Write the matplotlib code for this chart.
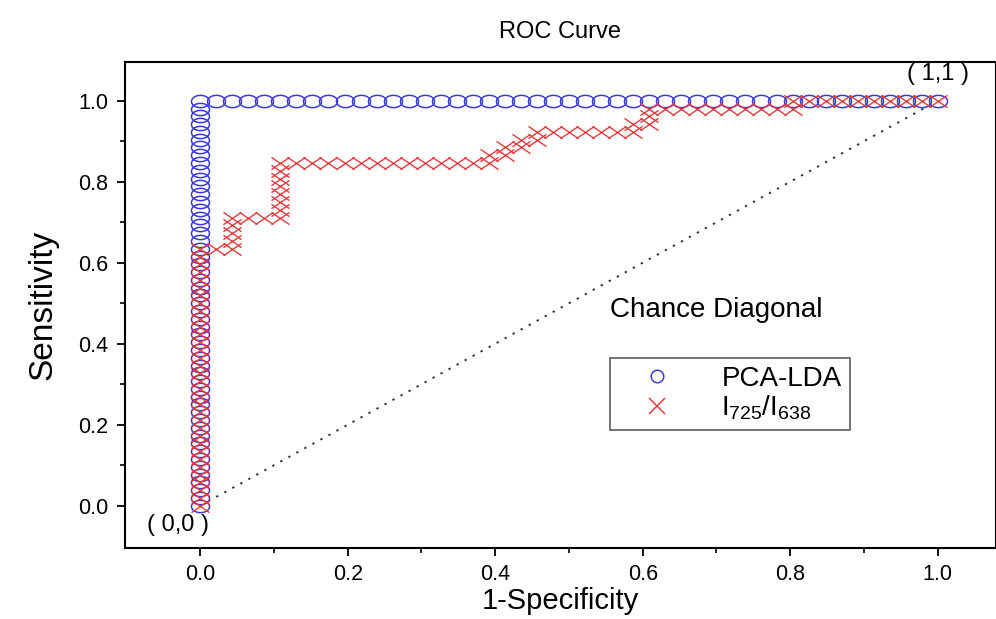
import numpy as np
import matplotlib
matplotlib.use("Agg")
import matplotlib.pyplot as plt
from matplotlib.path import Path
from matplotlib.lines import Line2D

plt.rcParams['font.family'] = ['Liberation Sans', 'DejaVu Sans']
plt.rcParams['mathtext.fontset'] = 'custom'
plt.rcParams['mathtext.rm'] = 'Liberation Sans'
plt.rcParams['mathtext.it'] = 'Liberation Sans'

# ranked outcomes: (label, run length), P = true positive step, N = false positive step
pca_runs = [("P", 52), ("N", 46)]
ratio_runs = [("P", 33), ("N", 2), ("P", 4), ("N", 3), ("P", 7), ("N", 13),
              ("P", 1), ("N", 1), ("P", 1), ("N", 1), ("P", 1), ("N", 1), ("P", 1),
              ("N", 5), ("N", 1), ("P", 1), ("N", 1), ("P", 2),
              ("N", 9), ("P", 1), ("N", 9)]

x_ticks = [0.0, 0.2, 0.4, 0.6, 0.8, 1.0]
y_ticks = [0.0, 0.2, 0.4, 0.6, 0.8, 1.0]


def roc_points(runs):
    labels = "".join(lab * n for lab, n in runs)
    n_pos = labels.count("P")
    n_neg = labels.count("N")
    fp, tp = [0], [0]
    for lab in labels:
        if lab == "P":
            fp.append(fp[-1])
            tp.append(tp[-1] + 1)
        else:
            fp.append(fp[-1] + 1)
            tp.append(tp[-1])
    return np.array(fp) / n_neg, np.array(tp) / n_pos


# the source image is stretched sideways, so markers are wide
t = np.linspace(0, 2 * np.pi, 60)
ellipse = np.column_stack([np.cos(t), 0.68 * np.sin(t)])
wide_x = Path([(-1, -0.68), (1, 0.68), (-1, 0.68), (1, -0.68)],
              [Path.MOVETO, Path.LINETO, Path.MOVETO, Path.LINETO])

blue = "#3a3ad6"
red = "#e23c3c"

fig = plt.figure(figsize=(9.96, 6.19), dpi=100)
ax = fig.add_axes([0.1255, 0.115, 0.8745, 0.785])

px, py = roc_points(pca_runs)
rx, ry = roc_points(ratio_runs)

ax.plot([0, 1], [0, 1], color="#333333", linestyle=(0, (1.2, 3.5)), lw=1.4)
ax.plot(px, py, linestyle="none", marker=ellipse, ms=13, mfc="none",
        mec=blue, mew=1.1)
ax.plot(rx, ry, linestyle="none", marker=wide_x, ms=13, mfc="none",
        mec=red, mew=1.0)

ax.set_xlim(-0.102, 1.079)
ax.set_ylim(-0.104, 1.096)
ax.set_xticks(x_ticks)
ax.set_yticks(y_ticks)
ax.set_xticks(np.array(x_ticks[:-1]) + 0.1, minor=True)
ax.set_yticks(np.array(y_ticks[:-1]) + 0.1, minor=True)
ax.set_xticklabels([f"{v:.1f}" for v in x_ticks])
ax.set_yticklabels([f"{v:.1f}" for v in y_ticks])
ax.tick_params(which="major", direction="out", length=6, width=1.3, labelsize=15.5)
ax.tick_params(axis="x", which="major", pad=6)
ax.tick_params(axis="y", which="major", pad=6)
ax.tick_params(which="minor", direction="out", length=3.5, width=1.2)
for s in ax.spines.values():
    s.set_linewidth(1.5)

ax.set_xlabel("1-Specificity", fontsize=21, labelpad=1)
ax.set_ylabel("Sensitivity", fontsize=24, labelpad=14)
ax.set_title("ROC Curve", fontsize=17, pad=17)

ax.text(-0.03, -0.047, "( 0,0 )", fontsize=17, ha="center", va="center")
ax.text(1.0, 1.066, "( 1,1 )", fontsize=17, ha="center", va="center")
ax.text(0.556, 0.484, "Chance Diagonal", fontsize=20, ha="left", va="center")

handles = [Line2D([], [], linestyle="none", marker="o", ms=9, mfc="none", mec=blue, mew=1.1),
           Line2D([], [], linestyle="none", marker="x", ms=11, mfc="none", mec=red, mew=1.1)]
leg = ax.legend(handles, ["PCA-LDA", "I$_{725}$/I$_{638}$"], loc="upper left",
                bbox_to_anchor=(0.557, 0.391), fontsize=20, frameon=True,
                fancybox=False, edgecolor="#333333", borderpad=0.3,
                handlelength=2.8, handletextpad=0.9, labelspacing=0.05,
                borderaxespad=0)
leg.get_frame().set_linewidth(1.2)

fig.savefig("out.png", dpi=100)
